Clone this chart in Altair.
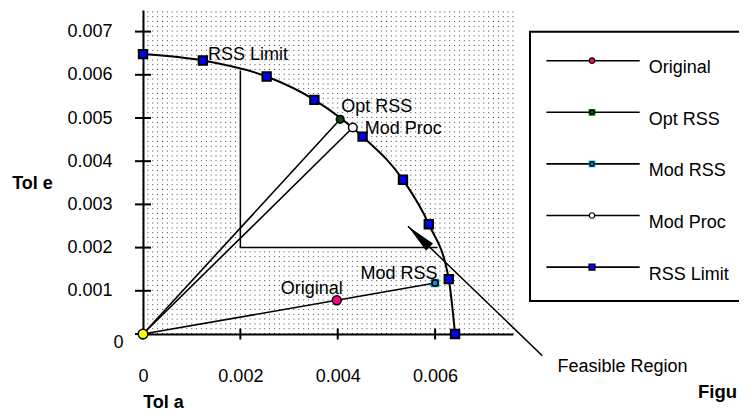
import altair as alt
import pandas as pd

FONT = "Liberation Sans"

# ---------------- data ----------------
rss_x = [0.0, 0.00123, 0.00254, 0.00352, 0.00451, 0.00534, 0.00587, 0.00628, 0.00641]
rss_y = [0.00648, 0.00633, 0.00596, 0.00542, 0.00457, 0.00357, 0.00254, 0.00127, 0.0]

pt_names = ["Original", "Opt RSS", "Mod RSS", "Mod Proc"]
pt_x = [0.00398, 0.00405, 0.00600, 0.00431]
pt_y = [0.00078, 0.00497, 0.00118, 0.00478]

origin_x = [0.0]
origin_y = [0.0]

x_tick_vals = [0, 0.002, 0.004, 0.006]
y_tick_vals = [0, 0.001, 0.002, 0.003, 0.004, 0.005, 0.006, 0.007]

legend_names = ["Original", "Opt RSS", "Mod RSS", "Mod Proc", "RSS Limit"]

# feasible region box corners
feas_left = 0.002
feas_bottom = 0.002
feas_left_top = 0.0061
feas_right = 0.00605

# annotation arrow (tip -> tail)
arrow_x = [0.005442, 0.008202]
arrow_y = [0.002494, -0.000502]
arrowhead_x = [0.005664]
arrowhead_y = [0.002253]

# ---------------- scales / axes ----------------
XS = alt.Scale(domain=[0, 0.0076], nice=False, zero=False)
YS = alt.Scale(domain=[0, 0.0075], nice=False, zero=False)

x_axis = alt.Axis(
    values=x_tick_vals, format="~g", ticks=False, tickSize=0, grid=False,
    domainColor="black", domainWidth=2, labelFont=FONT, labelFontSize=18,
    labelColor="black", labelPadding=33, labelBaseline="top", labelFlush=False,
    title="Tol a", titleFont=FONT, titleFontSize=18, titleFontWeight="bold",
    titleColor="black", titleX=20, titleY=73, titleAlign="center",
    titleBaseline="alphabetic", titleAnchor="start",
)
y_axis = alt.Axis(
    values=y_tick_vals, format="~g", ticks=False, tickSize=0, grid=False,
    domainColor="black", domainWidth=2, labelFont=FONT, labelFontSize=18,
    labelColor="black", labelBaseline="middle", labelFlush=False,
    labelPadding={"condition": {"test": "datum.value == 0", "value": 20}, "value": 31},
    labelOffset={"condition": {"test": "datum.value == 0", "value": 8}, "value": 0},
    title="Tol e", titleFont=FONT, titleFontSize=18, titleFontWeight="bold",
    titleColor="black", titleAngle=0, titleX=-111, titleY=173,
    titleAlign="center", titleBaseline="middle", titleAnchor="start",
)

def X(field="x"):
    return alt.X(f"{field}:Q", scale=XS, axis=x_axis)

def Y(field="y"):
    return alt.Y(f"{field}:Q", scale=YS, axis=y_axis)

# ---------------- dotted texture ----------------
dots = pd.DataFrame({"x": [i * 0.0001 for i in range(77)], "y0": 0.0, "y1": 0.0075})
dot_layer = alt.Chart(dots).mark_rule(
    color="black", strokeWidth=1, strokeDash=[1, 3.8], opacity=0.75
).encode(x=X("x"), y=Y("y0"), y2="y1:Q")

# ---------------- feasible (white) region ----------------
rss = pd.DataFrame({"x": rss_x, "y": rss_y})
inner = rss[(rss.x > feas_left) & (rss.x < feas_right)]
feas = pd.DataFrame({
    "x": [feas_left] + list(inner.x) + [feas_right],
    "y": [feas_left_top] + list(inner.y) + [feas_bottom],
})
feas["y2"] = feas_bottom
feas_area = alt.Chart(feas).mark_area(
    color="white", opacity=1, interpolate="monotone"
).encode(x=X(), y=Y(), y2="y2:Q")

feas_edge = pd.DataFrame({
    "x": [feas_left, feas_left, feas_right],
    "y": [feas_left_top, feas_bottom, feas_bottom],
    "o": [0, 1, 2],
})
feas_edge_layer = alt.Chart(feas_edge).mark_line(
    color="black", strokeWidth=1.5
).encode(x=X(), y=Y(), order="o:Q")

# ---------------- rays from the origin ----------------
P = dict(zip(pt_names, zip(pt_x, pt_y)))
rays = pd.DataFrame([
    {"ray": "a", "o": 0, "x": origin_x[0], "y": origin_y[0]},
    {"ray": "a", "o": 1, "x": P["Opt RSS"][0], "y": P["Opt RSS"][1]},
    {"ray": "b", "o": 0, "x": origin_x[0], "y": origin_y[0]},
    {"ray": "b", "o": 1, "x": P["Mod Proc"][0], "y": P["Mod Proc"][1]},
    {"ray": "c", "o": 0, "x": origin_x[0], "y": origin_y[0]},
    {"ray": "c", "o": 1, "x": P["Original"][0], "y": P["Original"][1]},
    {"ray": "c", "o": 2, "x": P["Mod RSS"][0], "y": P["Mod RSS"][1]},
])
ray_layer = alt.Chart(rays).mark_line(color="black", strokeWidth=1.6).encode(
    x=X(), y=Y(), detail="ray:N", order="o:Q"
)

# ---------------- RSS limit curve ----------------
rss_line = alt.Chart(rss).mark_line(
    color="black", strokeWidth=2, interpolate="monotone"
).encode(x=X(), y=Y())

# ---------------- axis ticks (crossing the axis lines) ----------------
yt = pd.DataFrame({"x": 0.0, "y": y_tick_vals})
xt = pd.DataFrame({"x": x_tick_vals, "y": 0.0})
ytick_layer = alt.Chart(yt).mark_tick(
    orient="horizontal", size=16, thickness=2, color="black", opacity=1
).encode(x=X(), y=Y())
xtick_layer = alt.Chart(xt).mark_tick(
    orient="vertical", size=11, thickness=2, color="black", opacity=1
).encode(x=X(), y=Y())

# ---------------- annotation arrow ----------------
arrow = pd.DataFrame({"x": [arrow_x[0]], "y": [arrow_y[0]], "x2": [arrow_x[1]], "y2": [arrow_y[1]]})
arrow_line = alt.Chart(arrow).mark_rule(color="black", strokeWidth=1.5, clip=False).encode(
    x=X(), y=Y(), x2="x2:Q", y2="y2:Q"
)
ah = pd.DataFrame({"x": arrowhead_x, "y": arrowhead_y})
arrow_head = alt.Chart(ah).mark_point(
    shape="M0,-1L0.33,1L-0.33,1Z", filled=True, color="black", opacity=1,
    size=900, angle=314, clip=False
).encode(x=X(), y=Y())

# ---------------- markers ----------------
pts = pd.DataFrame({"name": pt_names, "x": pt_x, "y": pt_y})
org = pd.DataFrame({"x": origin_x, "y": origin_y})

def pick(name):
    return alt.Chart(pts).transform_filter(alt.datum.name == name)

rss_pts = alt.Chart(rss).mark_point(
    shape="square", filled=True, fill="#0000ff", stroke="black", strokeWidth=2,
    size=70, opacity=1
).encode(x=X(), y=Y())
origin_pt = alt.Chart(org).mark_point(
    shape="circle", filled=True, fill="#ffff00", stroke="black", strokeWidth=1.5,
    size=90, opacity=1, clip=False
).encode(x=X(), y=Y())
orig_pt = pick("Original").mark_point(
    shape="circle", filled=True, fill="#ff0080", stroke="black", strokeWidth=1.5,
    size=80, opacity=1
).encode(x=X(), y=Y())
opt_sq = pick("Opt RSS").mark_point(
    shape="square", filled=True, fill="#005500", strokeWidth=0, size=40, opacity=1
).encode(x=X(), y=Y())
opt_c = pick("Opt RSS").mark_point(
    shape="circle", filled=False, stroke="black", strokeWidth=1.8, size=55, opacity=1
).encode(x=X(), y=Y())
modrss_sq = pick("Mod RSS").mark_point(
    shape="square", filled=True, fill="#0099cc", strokeWidth=0, size=70, opacity=1
).encode(x=X(), y=Y())
modrss_c = pick("Mod RSS").mark_point(
    shape="circle", filled=False, stroke="black", strokeWidth=1.6, size=40, opacity=1
).encode(x=X(), y=Y())
modproc_pt = pick("Mod Proc").mark_point(
    shape="circle", filled=True, fill="white", stroke="black", strokeWidth=1.5,
    size=75, opacity=1
).encode(x=X(), y=Y())

# ---------------- point labels ----------------
def label(df, text, align, dx, dy):
    return alt.Chart(df).mark_text(
        text=text, align=align, baseline="middle", dx=dx, dy=dy,
        font=FONT, fontSize=18, color="black"
    ).encode(x=X(), y=Y())

rss_lab = label(rss.iloc[[1]], "RSS Limit", "left", 5, -6)
opt_lab = label(pts[pts.name == "Opt RSS"], "Opt RSS", "left", 1, -12)
mp_lab = label(pts[pts.name == "Mod Proc"], "Mod Proc", "left", 12, 1)
or_lab = label(pts[pts.name == "Original"], "Original", "center", -25, -11)
mr_lab = label(pts[pts.name == "Mod RSS"], "Mod RSS", "center", -36, -9)

# ---------------- legend (drawn) ----------------
leg = pd.DataFrame({
    "name": legend_names,
    "ly": [50.7 + i * 51.6 for i in range(len(legend_names))],
})
leg["ty"] = leg["ly"] + 7.5
LY = alt.Y("ly:Q", scale=None)

leg_box = alt.Chart(pd.DataFrame({"a": [0]})).mark_rect(
    fill="white", stroke="black", strokeWidth=2, clip=False
).encode(x=alt.value(387), x2=alt.value(640), y=alt.value(21.7), y2=alt.value(291))
leg_lines = alt.Chart(leg).mark_rule(color="black", strokeWidth=1.6, clip=False).encode(
    x=alt.value(403.4), x2=alt.value(496.7), y=LY
)
leg_text = alt.Chart(leg).mark_text(
    align="left", baseline="middle", font=FONT, fontSize=18, color="black", clip=False
).encode(x=alt.value(505.7), y=alt.Y("ty:Q", scale=None), text="name:N")

def leg_mark(name, **kw):
    return alt.Chart(leg).transform_filter(alt.datum.name == name).mark_point(
        opacity=1, clip=False, **kw
    ).encode(x=alt.value(449), y=LY)

leg_marks = [
    leg_mark("Original", shape="circle", filled=True, fill="#ff0080", stroke="black", strokeWidth=1.2, size=30),
    leg_mark("Opt RSS", shape="square", filled=True, fill="#006600", strokeWidth=0, size=45),
    leg_mark("Opt RSS", shape="circle", filled=False, stroke="black", strokeWidth=1.3, size=18),
    leg_mark("Mod RSS", shape="square", filled=True, fill="#0099cc", strokeWidth=0, size=45),
    leg_mark("Mod RSS", shape="circle", filled=False, stroke="black", strokeWidth=1.3, size=18),
    leg_mark("Mod Proc", shape="circle", filled=True, fill="white", stroke="black", strokeWidth=1.2, size=30),
    leg_mark("RSS Limit", shape="square", filled=True, fill="#0000ff", stroke="black", strokeWidth=1.3, size=35),
]

# ---------------- free annotations ----------------
feas_text = alt.Chart(pd.DataFrame({"t": ["Feasible Region"]})).mark_text(
    align="left", baseline="middle", font=FONT, fontSize=18, color="black", clip=False
).encode(x=alt.value(414.5), y=alt.value(357), text="t:N")
fig_text = alt.Chart(pd.DataFrame({"t": ["Figu"]})).mark_text(
    align="left", baseline="alphabetic", font=FONT, fontSize=18.5, fontWeight="bold",
    color="black", clip=False
).encode(x=alt.value(555), y=alt.value(388), text="t:N")

chart = alt.layer(
    dot_layer, feas_area, feas_edge_layer, ray_layer, rss_line,
    ytick_layer, xtick_layer, arrow_line, arrow_head,
    rss_pts, origin_pt, orig_pt, opt_sq, opt_c, modrss_sq, modrss_c, modproc_pt,
    rss_lab, opt_lab, mp_lab, or_lab, mr_lab,
    leg_box, leg_lines, leg_text, *leg_marks,
    feas_text, fig_text,
).properties(
    width=370, height=324,
    autosize=alt.AutoSizeParams(type="none"),
    padding={"left": 135, "top": 2, "right": 226, "bottom": 76},
    background="white",
).configure_view(stroke=None)

chart.save("out.html", embed_options={"renderer": "svg", "actions": False})
